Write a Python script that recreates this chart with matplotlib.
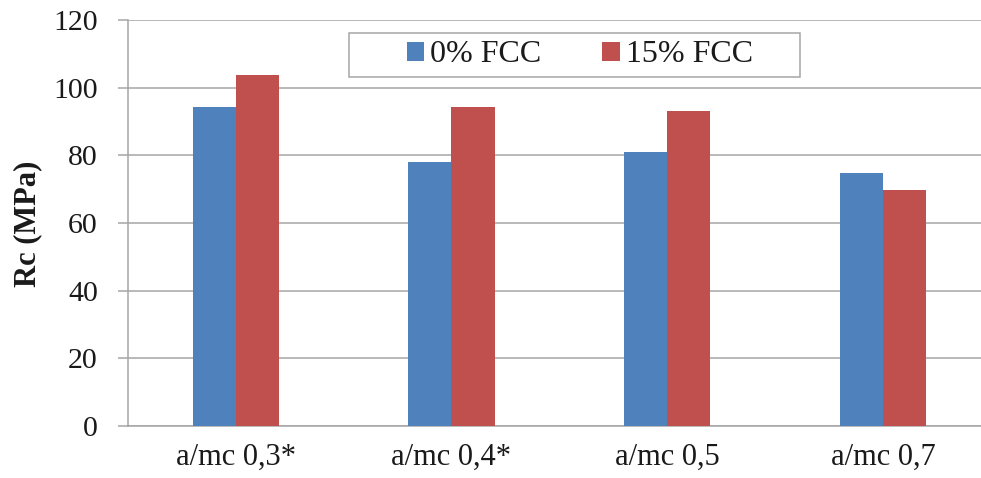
import matplotlib
matplotlib.use("Agg")
import matplotlib.pyplot as plt
from matplotlib.patches import Rectangle, Patch
import numpy as np

categories = ["a/mc 0,3*", "a/mc 0,4*", "a/mc 0,5", "a/mc 0,7"]
fcc_0 = [94.2, 78.0, 81.1, 74.7]
fcc_15 = [103.7, 94.3, 93.2, 69.7]
series_names = ["0% FCC", "15% FCC"]
y_ticks = [0, 20, 40, 60, 80, 100, 120]

plt.rcParams["font.family"] = ["Liberation Serif", "DejaVu Serif"]
BLUE = "#4F81BD"
RED = "#C0504D"
GRID = "#a6a6a6"
TXT = "#1a1a1a"

W, H = 981, 478
fig = plt.figure(figsize=(W / 100, H / 100), dpi=100)
ax = fig.add_axes([127.8 / W, 52 / H, 863 / W, 406 / H])

x = np.arange(len(categories))
bw = 0.2
ax.bar(x - bw / 2, fcc_0, bw, color=BLUE, zorder=3)
ax.bar(x + bw / 2, fcc_15, bw, color=RED, zorder=3)

ax.set_xlim(-0.5, len(categories) - 0.5)
ax.set_ylim(0, 120)
ax.set_yticks(y_ticks)
ax.set_xticks(x)
ax.set_xticklabels(categories)

ax.yaxis.grid(True, color=GRID, linewidth=1.1, zorder=0)
ax.set_axisbelow(True)
for s in ["top", "right"]:
    ax.spines[s].set_visible(False)
for s in ["left", "bottom"]:
    ax.spines[s].set_color(GRID)
    ax.spines[s].set_linewidth(1.1)

ax.tick_params(axis="y", length=7.5, width=1.1, color=GRID, pad=14,
               labelsize=21.5, labelcolor=TXT)
ax.tick_params(axis="x", length=0, pad=12, labelsize=22, labelcolor=TXT)

fig.text(27.5 / W, 1 - 223.5 / H, "Rc (MPa)", rotation=90, ha="center",
         va="center", fontsize=22, fontweight="bold", color=TXT)

# legend frame and entries
fig.patches.append(Rectangle((349.3 / W, 1 - 76.7 / H), (800 - 349.3) / W,
                             (76.7 - 33.3) / H, transform=fig.transFigure,
                             facecolor="white", edgecolor=GRID, linewidth=1.1,
                             zorder=5))
handles = [Patch(facecolor=BLUE), Patch(facecolor=RED)]
leg = fig.legend(handles, series_names, loc="center",
                 bbox_to_anchor=(580 / W, 1 - 55 / H), ncol=2, frameon=False,
                 fontsize=23, handlelength=0.55, handleheight=0.55,
                 handletextpad=0.2, columnspacing=1.9, borderpad=0)
leg.set_zorder(6)
for t in leg.get_texts():
    t.set_color(TXT)

fig.savefig("out.png", dpi=100)
